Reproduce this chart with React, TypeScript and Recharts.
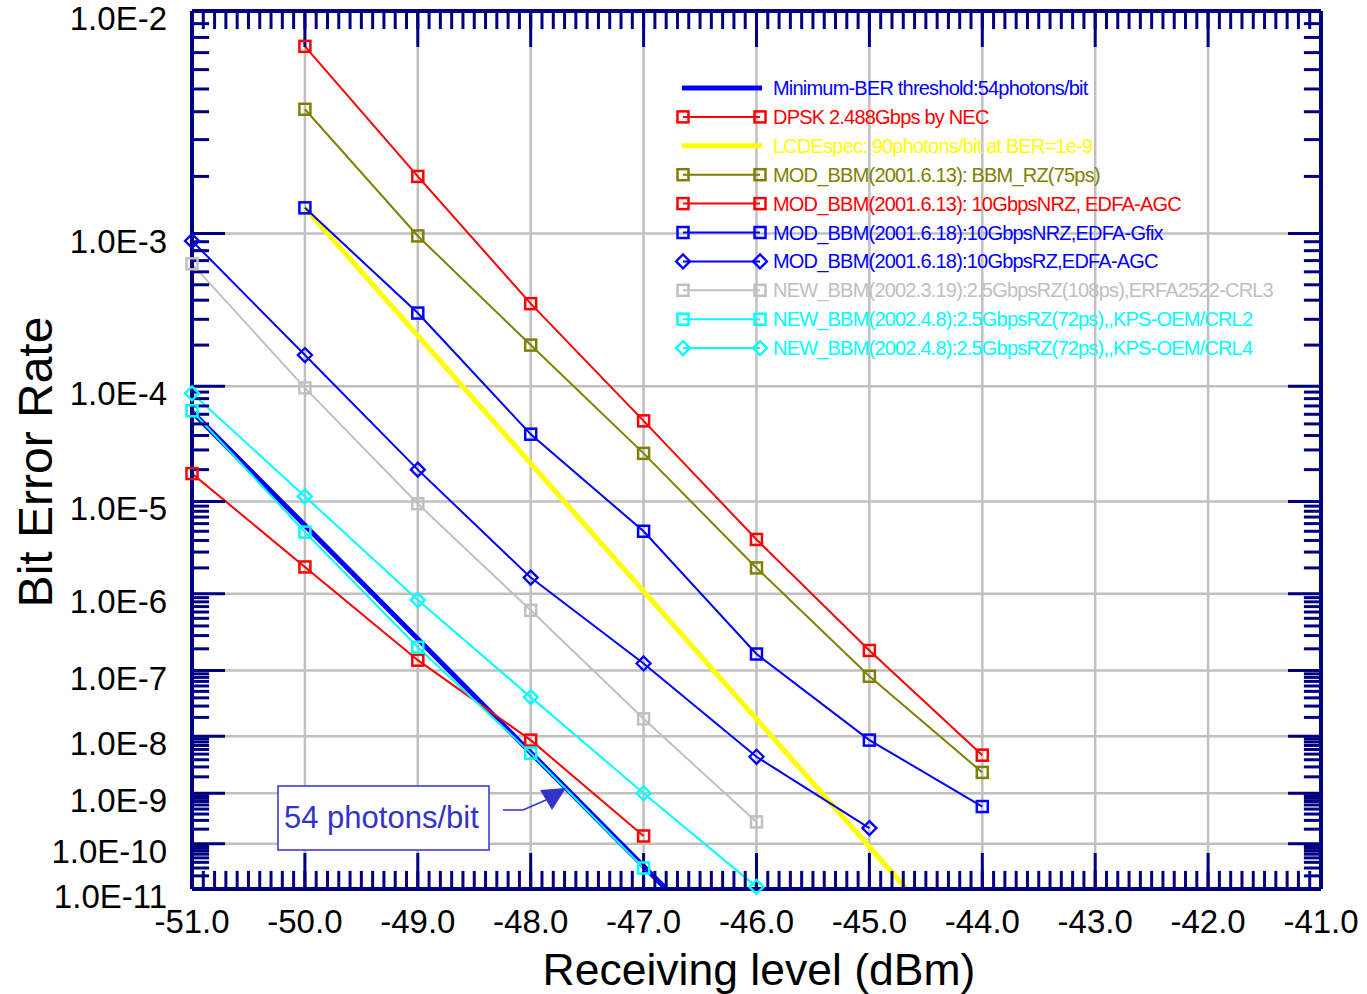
import React from "react";
import { LineChart, Line, XAxis, YAxis, CartesianGrid } from "recharts";

const FONT = '"Liberation Sans", Arial, Helvetica, sans-serif';
const NAVY = "#000080";
const GRID = "#c0c0c0";

// BER axis of the original plot: spacing follows (-log10 BER)^-0.1
const berToAxis = (ber: number) => Math.pow(-Math.log10(ber), -0.1);

const xTicks = [-51, -50, -49, -48, -47, -46, -45, -44, -43, -42, -41];
const decadeExps = [2, 3, 4, 5, 6, 7, 8, 9, 10, 11];
const minorMantissas = [2, 3, 4, 5, 6, 7, 8, 9];

// series: receiving level (dBm) and bit error rate
const minBerX = [-51, -46.8];
const minBerY = [6.3e-5, 1e-11];

const dpskX = [-51, -50, -49, -48, -47];
const dpskY = [1.84e-5, 2.05e-6, 1.4e-7, 8.6e-9, 1.45e-10];

const lcdeX = [-50, -44.67];
const lcdeY = [1.38e-3, 1e-11];

const bbmRzX = [-50, -49, -48, -47, -46, -45, -44];
const bbmRzY = [4.1e-3, 9.7e-4, 2.0e-4, 2.8e-5, 2.0e-6, 8.3e-8, 2.4e-9];

const nrzAgcX = [-50, -49, -48, -47, -46, -45, -44];
const nrzAgcY = [7.4e-3, 2.0e-3, 3.8e-4, 5.3e-5, 4.1e-6, 1.9e-7, 4.8e-9];

const nrzGfixX = [-50, -49, -48, -47, -46, -45, -44];
const nrzGfixY = [1.38e-3, 3.3e-4, 4.1e-5, 5.0e-6, 1.7e-7, 8.6e-9, 5.6e-10];

const rzAgcX = [-51, -50, -49, -48, -47, -46, -45];
const rzAgcY = [9.1e-4, 1.7e-4, 2.0e-5, 1.55e-6, 1.26e-7, 4.5e-9, 2.1e-10];

const crl3X = [-51, -50, -49, -48, -47, -46];
const crl3Y = [6.7e-4, 9.7e-5, 9.5e-6, 6.3e-7, 1.9e-8, 2.8e-10];

const crl2X = [-51, -50, -49, -48, -47];
const crl2Y = [6.4e-5, 4.9e-6, 2.1e-7, 5.2e-9, 3.0e-11];

const crl4X = [-51, -50, -49, -48, -47, -46];
const crl4Y = [8.8e-5, 1.12e-5, 8.4e-7, 4.1e-8, 1.0e-9, 1.12e-11];

type Marker = "square" | "diamond" | "none";

const series: { name: string; color: string; marker: Marker; xs: number[]; ys: number[] }[] = [
  { name: "Minimum-BER threshold:54photons/bit", color: "#0000ff", marker: "none", xs: minBerX, ys: minBerY },
  { name: "DPSK 2.488Gbps by NEC", color: "#ff0000", marker: "square", xs: dpskX, ys: dpskY },
  { name: "LCDEspec: 90photons/bit at BER=1e-9", color: "#ffff00", marker: "none", xs: lcdeX, ys: lcdeY },
  { name: "MOD_BBM(2001.6.13): BBM_RZ(75ps)", color: "#808000", marker: "square", xs: bbmRzX, ys: bbmRzY },
  { name: "MOD_BBM(2001.6.13): 10GbpsNRZ, EDFA-AGC", color: "#ff0000", marker: "square", xs: nrzAgcX, ys: nrzAgcY },
  { name: "MOD_BBM(2001.6.18):10GbpsNRZ,EDFA-Gfix", color: "#0000ff", marker: "square", xs: nrzGfixX, ys: nrzGfixY },
  { name: "MOD_BBM(2001.6.18):10GbpsRZ,EDFA-AGC", color: "#0000ff", marker: "diamond", xs: rzAgcX, ys: rzAgcY },
  { name: "NEW_BBM(2002.3.19):2.5GbpsRZ(108ps),ERFA2522-CRL3", color: "#c0c0c0", marker: "square", xs: crl3X, ys: crl3Y },
  { name: "NEW_BBM(2002.4.8):2.5GbpsRZ(72ps),,KPS-OEM/CRL2", color: "#00ffff", marker: "square", xs: crl2X, ys: crl2Y },
  { name: "NEW_BBM(2002.4.8):2.5GbpsRZ(72ps),,KPS-OEM/CRL4", color: "#00ffff", marker: "diamond", xs: crl4X, ys: crl4Y },
];

const xMinor = Array.from({ length: 101 }, (_, i) => Math.round((-51 + i * 0.1) * 10) / 10);
const yMajor = decadeExps.map((e) => berToAxis(Math.pow(10, -e)));
const yMinor = decadeExps
  .slice(0, -1)
  .flatMap((e) => minorMantissas.map((m) => berToAxis(m * Math.pow(10, -(e + 1)))));
const yDomain = [berToAxis(1e-11), berToAxis(1e-2)];
const frameData = xTicks.map((x) => ({ x }));

function markerShape(kind: Marker, cx: number, cy: number, color: string, key?: any) {
  if (kind === "square") {
    return <rect key={key} x={cx - 5.5} y={cy - 5.5} width={11} height={11} fill="none" stroke={color} strokeWidth={2.5} />;
  }
  if (kind === "diamond") {
    return (
      <path key={key} d={`M${cx},${cy - 7}L${cx + 7},${cy}L${cx},${cy + 7}L${cx - 7},${cy}Z`} fill="none" stroke={color} strokeWidth={2.3} />
    );
  }
  return <g key={key} />;
}

const makeDot = (kind: Marker, color: string) => (p: any) => {
  if (p.cx == null || p.cy == null) return <g key={`n${p.index}`} />;
  return markerShape(kind, p.cx, p.cy, color, `d${p.index}`);
};

const XTick = (p: any) => (
  <text x={p.x} y={p.y + 44} textAnchor="middle" fontSize={33} fontFamily={FONT} fill="#000">
    {Number(p.payload.value).toFixed(1)}
  </text>
);

const YTick = (p: any) => {
  const e = Math.round(Math.pow(p.payload.value, -10));
  return (
    <text x={p.x} y={p.y + 19} textAnchor="end" fontSize={33} fontFamily={FONT} fill="#000">
      {`1.0E-${e}`}
    </text>
  );
};

const NoTick = () => <g />;
const tickStroke = { stroke: NAVY, strokeWidth: 3 };
const frameStroke = { stroke: NAVY, strokeWidth: 4 };

export default function App() {
  return (
    <div style={{ position: "absolute", left: 0, top: 0, width: 1367, height: 994, background: "#fff" }}>
      <LineChart width={1367} height={994} data={frameData} margin={{ top: 11, right: 46, bottom: 45, left: 12 }}>
        <CartesianGrid stroke={GRID} strokeWidth={2.5} />

        <XAxis
          type="number" dataKey="x" domain={[-51, -41]} ticks={xTicks} interval={0}
          height={60} tickSize={0} tickMargin={0} tickLine={false} axisLine={frameStroke} tick={<XTick />}
        />
        <XAxis xAxisId="bMaj" dataKey="x" type="number" domain={[-51, -41]} allowDataOverflow ticks={xTicks} interval={0}
          mirror height={0.1} tickSize={36} tickLine={tickStroke} axisLine={false} tick={<NoTick />} />
        <XAxis xAxisId="bMin" dataKey="x" type="number" domain={[-51, -41]} allowDataOverflow ticks={xMinor} interval={0}
          mirror height={0.1} tickSize={18} tickLine={tickStroke} axisLine={false} tick={<NoTick />} />
        <XAxis xAxisId="tMaj" dataKey="x" orientation="top" type="number" domain={[-51, -41]} allowDataOverflow ticks={xTicks} interval={0}
          mirror height={0.1} tickSize={36} tickLine={tickStroke} axisLine={frameStroke} tick={<NoTick />} />
        <XAxis xAxisId="tMin" dataKey="x" orientation="top" type="number" domain={[-51, -41]} allowDataOverflow ticks={xMinor} interval={0}
          mirror height={0.1} tickSize={18} tickLine={tickStroke} axisLine={false} tick={<NoTick />} />

        <YAxis
          type="number" domain={yDomain} ticks={yMajor} interval={0}
          width={180} tickSize={0} tickMargin={25} tickLine={false} axisLine={frameStroke} tick={<YTick />}
        />
        <YAxis yAxisId="lMaj" type="number" domain={yDomain} allowDataOverflow ticks={yMajor} interval={0}
          mirror width={0.1} tickSize={33} tickLine={tickStroke} axisLine={false} tick={<NoTick />} />
        <YAxis yAxisId="lMin" type="number" domain={yDomain} allowDataOverflow ticks={yMinor} interval={0}
          mirror width={0.1} tickSize={17} tickLine={tickStroke} axisLine={false} tick={<NoTick />} />
        <YAxis yAxisId="rMaj" orientation="right" type="number" domain={yDomain} allowDataOverflow ticks={yMajor} interval={0}
          mirror width={0.1} tickSize={33} tickLine={tickStroke} axisLine={frameStroke} tick={<NoTick />} />
        <YAxis yAxisId="rMin" orientation="right" type="number" domain={yDomain} allowDataOverflow ticks={yMinor} interval={0}
          mirror width={0.1} tickSize={17} tickLine={tickStroke} axisLine={false} tick={<NoTick />} />

        {series.map((s) => (
          <Line
            key={s.name}
            name={s.name}
            data={s.xs.map((x, i) => ({ x, y: berToAxis(s.ys[i]) }))}
            dataKey="y"
            type="linear"
            stroke={s.color}
            strokeWidth={s.marker === "none" ? 5 : 2}
            dot={s.marker === "none" ? false : makeDot(s.marker, s.color)}
            activeDot={false}
            isAnimationActive={false}
          />
        ))}
      </LineChart>

      <svg width={1367} height={994} style={{ position: "absolute", left: 0, top: 0, pointerEvents: "none" }}>
        {/* legend */}
        {series.map((s, i) => {
          const cy = 88 + i * 28.9;
          return (
            <g key={s.name}>
              {s.marker === "none" ? (
                <line x1={682} x2={762} y1={cy} y2={cy} stroke={s.color} strokeWidth={5} />
              ) : (
                <>
                  <line x1={683} x2={760} y1={cy} y2={cy} stroke={s.color} strokeWidth={2} />
                  {markerShape(s.marker, 683, cy, s.color)}
                  {markerShape(s.marker, 760, cy, s.color)}
                </>
              )}
              <text x={773} y={cy + 7} fontSize={20} letterSpacing={-0.8} fontFamily={FONT} fill={s.color}>
                {s.name}
              </text>
            </g>
          );
        })}

        {/* annotation */}
        <rect x={278} y={786} width={211} height={64} fill="#fff" stroke="#3333cc" strokeWidth={1.5} />
        <text x={284} y={828} fontSize={31} fontFamily={FONT} fill="#3333cc">54 photons/bit</text>
        <polyline points="503,810 523,810 546,800" fill="none" stroke="#3333cc" strokeWidth={1.5} />
        <polygon points="566,788 540,790 552,810" fill="#3333cc" />

        {/* axis titles */}
        <text x={759} y={985} textAnchor="middle" fontSize={44.5} fontFamily={FONT} fill="#000">
          Receiving level (dBm)
        </text>
        <text transform="translate(52,462) rotate(-90)" textAnchor="middle" fontSize={48} fontFamily={FONT} fill="#000">
          Bit Error Rate
        </text>
      </svg>
    </div>
  );
}
